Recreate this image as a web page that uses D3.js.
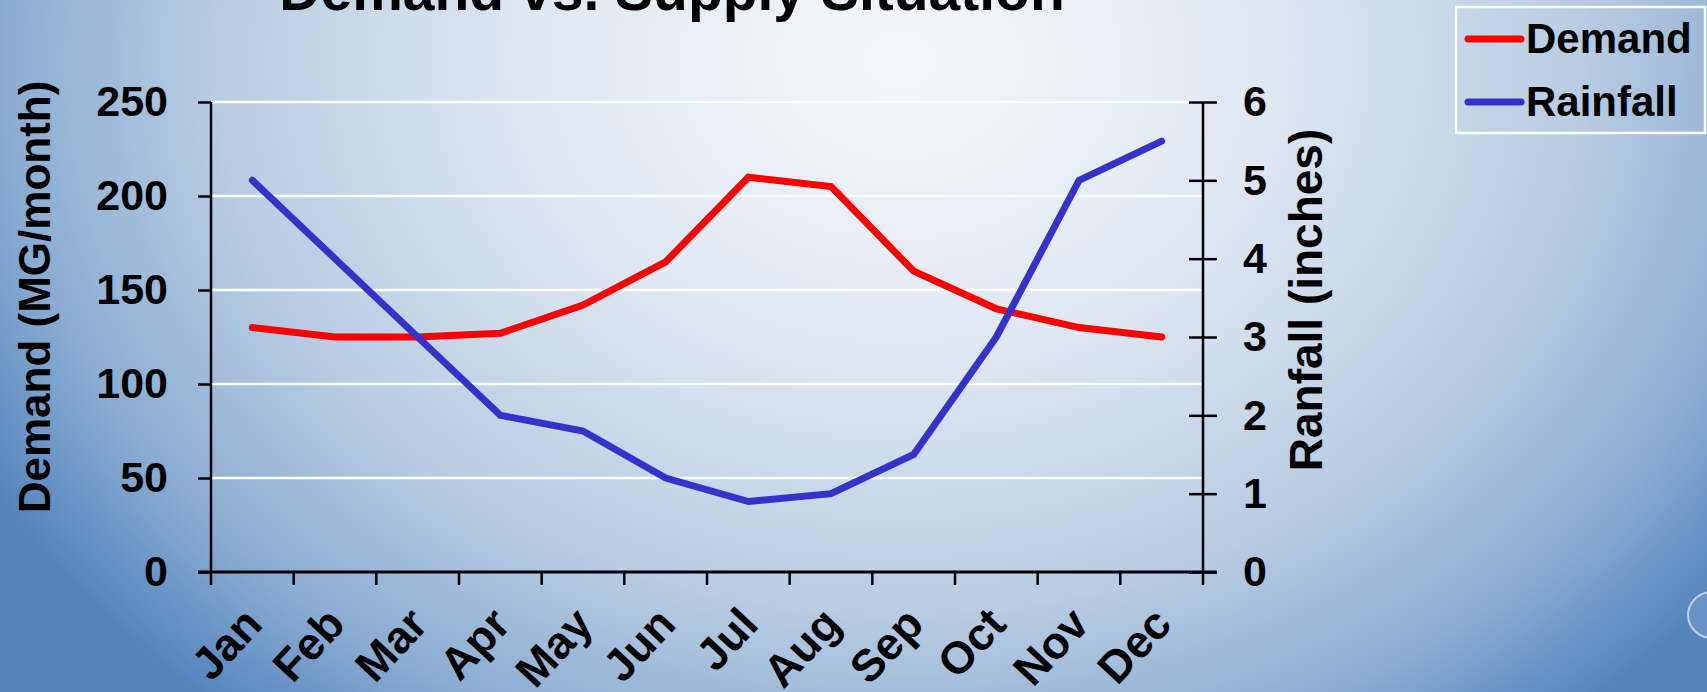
<!DOCTYPE html>
<html lang="en">
<head>
  <meta charset="UTF-8">
  <title>Demand vs. Supply Situation</title>
  <script src="https://d3js.org/d3.v7.min.js"></script>
  <style>
    body {
      margin: 0;
      overflow: hidden;
    }
    svg {
      display: block;
      font-family: "Liberation Sans", Arial, sans-serif;
      font-weight: bold;
    }
  </style>
</head>
<body>
  <div id="chart"></div>

  <script>
    // Data
    const months = ["Jan", "Feb", "Mar", "Apr", "May", "Jun", "Jul", "Aug", "Sep", "Oct", "Nov", "Dec"];
    const demand = [130, 125, 125, 127, 142, 165, 210, 205, 160, 140, 130, 125];
    const rainfall = [5, 4, 3, 2, 1.8, 1.2, 0.9, 1, 1.5, 3, 5, 5.5];
    const demandTicks = [0, 50, 100, 150, 200, 250];
    const rainTicks = [0, 1, 2, 3, 4, 5, 6];

    const width = 1707, height = 692;
    const plot = { left: 211, right: 1203, top: 102, bottom: 572 };

    const svg = d3.select("#chart")
      .append("svg")
      .attr("width", width)
      .attr("height", height);

    // background gradient
    const defs = svg.append("defs");
    const grad = defs.append("radialGradient")
      .attr("id", "bg")
      .attr("gradientUnits", "userSpaceOnUse")
      .attr("cx", 900).attr("cy", 60).attr("r", 1000)
      .attr("gradientTransform", "translate(900,60) scale(1.05,0.85) translate(-900,-60)");
    [[0, "#f5f8fb"], [0.35, "#dfe7f1"], [0.65, "#b8cce3"], [0.85, "#8badd2"], [1, "#5584bd"]]
      .forEach(s => grad.append("stop").attr("offset", s[0]).attr("stop-color", s[1]));

    svg.append("rect")
      .attr("width", width)
      .attr("height", height)
      .attr("fill", "url(#bg)");

    // little water drop at the right edge
    svg.append("ellipse")
      .attr("cx", 1712).attr("cy", 615)
      .attr("rx", 24).attr("ry", 23)
      .attr("fill", "rgba(255,255,255,0.12)")
      .attr("stroke", "rgba(235,242,250,0.7)")
      .attr("stroke-width", 2);

    // scales
    const x = d3.scaleBand().domain(months).range([plot.left, plot.right]);
    const yL = d3.scaleLinear().domain([0, 250]).range([plot.bottom, plot.top]);
    const yR = d3.scaleLinear().domain([0, 6]).range([plot.bottom, plot.top]);

    // gridlines
    svg.append("g")
      .selectAll("line")
      .data(demandTicks.filter(d => d > 0))
      .enter().append("line")
      .attr("x1", plot.left).attr("x2", plot.right)
      .attr("y1", d => yL(d)).attr("y2", d => yL(d))
      .attr("stroke", "#ffffff")
      .attr("stroke-width", 2.5);

    // left axis
    const axisL = svg.append("g")
      .attr("transform", `translate(${plot.left},0)`)
      .call(d3.axisLeft(yL).tickValues(demandTicks).tickSize(13).tickPadding(30));
    axisL.select(".domain").remove();
    axisL.selectAll("line").attr("stroke", "#000").attr("stroke-width", 2.5);
    axisL.selectAll("text")
      .attr("fill", "#000")
      .style("font-size", "43px")
      .style("font-family", "'Liberation Sans', Arial, sans-serif")
      .style("font-weight", "bold");

    svg.append("line")
      .attr("x1", plot.left).attr("x2", plot.left)
      .attr("y1", plot.top).attr("y2", plot.bottom + 13)
      .attr("stroke", "#000").attr("stroke-width", 2.5);

    // right axis
    const axisR = svg.append("g")
      .attr("transform", `translate(${plot.right},0)`)
      .call(d3.axisRight(yR).tickValues(rainTicks).tickFormat(d3.format("d")).tickSize(14).tickPadding(26));
    axisR.select(".domain").remove();
    axisR.selectAll("line").attr("x1", -14).attr("stroke", "#000").attr("stroke-width", 2.5);
    axisR.selectAll("text")
      .attr("fill", "#000")
      .style("font-size", "43px")
      .style("font-family", "'Liberation Sans', Arial, sans-serif")
      .style("font-weight", "bold");

    svg.append("line")
      .attr("x1", plot.right).attr("x2", plot.right)
      .attr("y1", plot.top).attr("y2", plot.bottom + 13)
      .attr("stroke", "#000").attr("stroke-width", 2.5);

    // bottom axis: ticks between the months
    svg.append("line")
      .attr("x1", plot.left - 13).attr("x2", plot.right + 14)
      .attr("y1", plot.bottom).attr("y2", plot.bottom)
      .attr("stroke", "#000").attr("stroke-width", 3);

    svg.append("g")
      .selectAll("line")
      .data(months.slice(1))
      .enter().append("line")
      .attr("x1", d => x(d)).attr("x2", d => x(d))
      .attr("y1", plot.bottom).attr("y2", plot.bottom + 13)
      .attr("stroke", "#000").attr("stroke-width", 2.5);

    svg.append("g")
      .selectAll("text")
      .data(months)
      .enter().append("text")
      .attr("transform", d => `translate(${x(d) + x.bandwidth() / 2 + 12},${plot.bottom + 54}) rotate(-47)`)
      .attr("text-anchor", "end")
      .style("font-size", "45px")
      .text(d => d);

    // lines
    const cx = (d, i) => x(months[i]) + x.bandwidth() / 2;

    svg.append("path")
      .datum(demand)
      .attr("fill", "none")
      .attr("stroke", "#ff0000")
      .attr("stroke-width", 7)
      .attr("stroke-linecap", "round")
      .attr("d", d3.line().x(cx).y(d => yL(d)));

    svg.append("path")
      .datum(rainfall)
      .attr("fill", "none")
      .attr("stroke", "#3333cc")
      .attr("stroke-width", 7)
      .attr("stroke-linecap", "round")
      .attr("d", d3.line().x(cx).y(d => yR(d)));

    // titles
    svg.append("text")
      .attr("x", 672).attr("y", 10)
      .attr("text-anchor", "middle")
      .style("font-size", "57px")
      .text("Demand vs. Supply Situation");

    svg.append("text")
      .attr("transform", "translate(50,297) rotate(-90)")
      .attr("text-anchor", "middle")
      .style("font-size", "44px")
      .text("Demand (MG/month)");

    svg.append("text")
      .attr("transform", "translate(1322,300) rotate(-90)")
      .attr("text-anchor", "middle")
      .style("font-size", "46px")
      .text("Ranfall (inches)");

    // legend
    const legend = svg.append("g");
    legend.append("rect")
      .attr("x", 1456).attr("y", 7)
      .attr("width", 249).attr("height", 126)
      .attr("fill", "none")
      .attr("stroke", "#ffffff")
      .attr("stroke-width", 2.5);

    const series = [["Demand", "#ff0000"], ["Rainfall", "#3333cc"]];
    series.forEach((s, i) => {
      const ly = 39 + i * 63;
      legend.append("line")
        .attr("x1", 1468).attr("x2", 1521)
        .attr("y1", ly).attr("y2", ly)
        .attr("stroke", s[1])
        .attr("stroke-width", 7)
        .attr("stroke-linecap", "round");
      legend.append("text")
        .attr("x", 1526).attr("y", ly + 14)
        .style("font-size", "42px")
        .text(s[0]);
    });
  </script>
</body>
</html>
